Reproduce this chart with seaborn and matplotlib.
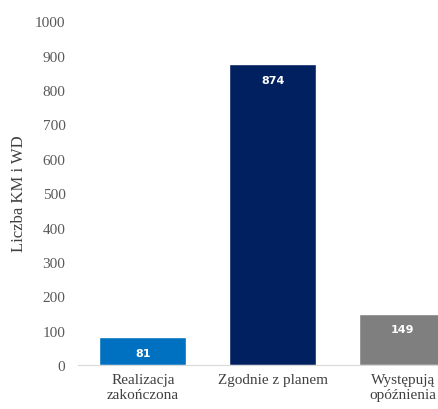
import matplotlib
matplotlib.use("Agg")
import pandas as pd
import seaborn as sns
import matplotlib.pyplot as plt

categories = ["Realizacja\nzakończona", "Zgodnie z planem", "Występują\nopóźnienia"]
values = [81, 874, 149]
colors = ["#0070C0", "#002060", "#7F7F7F"]

sns.set_theme(style="white")
plt.rcParams["font.family"] = ["Liberation Serif", "DejaVu Serif"]

df = pd.DataFrame({"cat": categories, "val": values})

fig = plt.figure(figsize=(4.38, 4.10), dpi=100)
ax = fig.add_axes([0.178, 0.107, 0.822, 0.839])

sns.barplot(data=df, x="cat", y="val", hue="cat", palette=colors,
            width=0.67, saturation=1, legend=False, ax=ax)

# value labels inside the top of each bar
for i, v in enumerate(values):
    ax.annotate(str(v), (i, v), xytext=(0, -11), textcoords="offset points",
                ha="center", va="center", color="white", fontsize=8,
                fontweight="bold", family="DejaVu Sans")

ax.set_ylim(0, 1000)
ax.set_xlim(-0.5, 2.27)
ax.set_yticks(range(0, 1001, 100))
ax.set_xlabel("")
ax.set_ylabel("Liczba KM i WD", fontsize=12, color="#404040", labelpad=6)
ax.tick_params(axis="y", labelsize=11, labelcolor="#595959", length=0, pad=9)
ax.tick_params(axis="x", labelsize=11, labelcolor="#404040", length=0, pad=6)

for s in ["top", "right", "left"]:
    ax.spines[s].set_visible(False)
ax.spines["bottom"].set_color("#D9D9D9")
ax.spines["bottom"].set_linewidth(0.8)

fig.savefig("out.png", dpi=100)
